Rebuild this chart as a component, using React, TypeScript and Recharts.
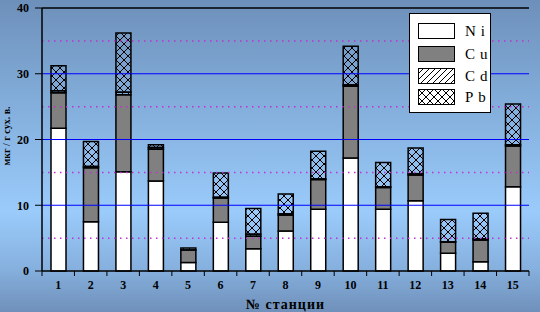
import React from "react";
import { Bar, BarChart, Label, Legend, ReferenceLine, XAxis, YAxis } from "recharts";

const stations = ["1", "2", "3", "4", "5", "6", "7", "8", "9", "10", "11", "12", "13", "14", "15"];
const ni = [21.7, 7.5, 15.1, 13.7, 1.3, 7.4, 3.4, 6.1, 9.4, 17.2, 9.4, 10.7, 2.7, 1.4, 12.8];
const cu = [5.4, 8.2, 11.7, 4.8, 1.9, 3.7, 1.9, 2.4, 4.5, 10.9, 3.3, 3.9, 1.7, 3.3, 6.2];
const cd = [0.3, 0.2, 0.4, 0.3, 0.3, 0.1, 0.3, 0.2, 0.1, 0.2, 0.1, 0.2, 0.05, 0.2, 0.2];
const pb = [3.8, 3.8, 9.0, 0.4, 0, 3.7, 3.9, 3.0, 4.2, 5.9, 3.7, 3.9, 3.4, 3.9, 6.2];
const yTicks = [0, 10, 20, 30, 40];
const majorLines = [10, 20, 30];
const minorLines = [5, 15, 25, 35];

const data = stations.map((s, i) => ({ st: s, Ni: ni[i], Cu: cu[i], Cd: cd[i], Pb: pb[i] }));

const series = [
  { key: "Ni", fill: "#ffffff" },
  { key: "Cu", fill: "#808080" },
  { key: "Cd", fill: "url(#hatchCd)" },
  { key: "Pb", fill: "url(#hatchPb)" },
];

const serif = "'Liberation Serif', 'Times New Roman', serif";

function Patterns({ prefix = "" }: { prefix?: string }) {
  return (
    <defs>
      <pattern id={`${prefix}hatchCd`} width={6} height={6} patternUnits="userSpaceOnUse">
        <path d="M0,6 L6,0 M-1,1 L1,-1 M5,7 L7,5" stroke="#000" strokeWidth={1} />
      </pattern>
      <pattern id={`${prefix}hatchPb`} width={8} height={8} patternUnits="userSpaceOnUse">
        <path d="M0,0 L8,8 M8,0 L0,8" stroke="#000" strokeWidth={1} />
        <rect x={3} y={3} width={2} height={2} fill="#000" />
      </pattern>
    </defs>
  );
}

function StationTick(props: any) {
  const { x, y, payload, index, width, visibleTicksCount } = props;
  const step = width / visibleTicksCount;
  const last = index === visibleTicksCount - 1;
  return (
    <g>
      <line x1={x - step / 2} x2={x - step / 2} y1={y - 8} y2={y - 3} stroke="#000" strokeWidth={1} />
      {last && <line x1={x + step / 2} x2={x + step / 2} y1={y - 8} y2={y - 3} stroke="#000" strokeWidth={1} />}
      <text x={x} y={y + 10} textAnchor="middle" fontFamily={serif} fontSize={12} fontWeight="bold" fill="#000">
        {payload.value}
      </text>
    </g>
  );
}

function LegendBox() {
  const tops = [10, 33, 55, 76];
  return (
    <div style={{ position: "relative", width: 82, height: 100, background: "#fff", border: "1px solid #000", boxSizing: "border-box" }}>
      {series.map((s, i) => (
        <div key={s.key}>
          <svg width={37} height={16} style={{ position: "absolute", left: 8, top: tops[i] - 1 }}>
            <Patterns prefix="lg-" />
            <rect
              x={0.5}
              y={0.5}
              width={36}
              height={15}
              fill={s.fill.startsWith("url") ? s.fill.replace("#", "#lg-") : s.fill}
              stroke="#000"
              strokeWidth={1}
            />
          </svg>
          <span
            style={{
              position: "absolute",
              left: 55,
              top: tops[i] - 3,
              fontFamily: serif,
              fontSize: 15,
              letterSpacing: 5,
              color: "#000",
              lineHeight: "20px",
            }}
          >
            {s.key}
          </span>
        </div>
      ))}
    </div>
  );
}

export default function App() {
  return (
    <div
      style={{
        position: "absolute",
        left: 0,
        top: 0,
        width: 540,
        height: 312,
        background: "linear-gradient(180deg, #6d90ba 0%, #84afdc 35%, #9acbfb 68%, #86b0de 86%, #6f90ba 100%)",
      }}
    >
      <BarChart
        width={540}
        height={312}
        data={data}
        margin={{ top: 8, right: 11, bottom: 0, left: 0 }}
        barSize={15}
      >
        <Patterns />
        <XAxis
          dataKey="st"
          height={41}
          axisLine={{ stroke: "#000", strokeWidth: 1.5 }}
          tickLine={false}
          tick={<StationTick />}
          interval={0}
        >
          <Label
            value="№ станции"
            position="insideBottom"
            offset={3}
            style={{ fontFamily: serif, fontSize: 14, fontWeight: "bold", fill: "#000", letterSpacing: 1 }}
          />
        </XAxis>
        <YAxis
          width={42}
          domain={[0, 40]}
          ticks={yTicks}
          tickSize={7}
          tickMargin={6}
          axisLine={{ stroke: "#000", strokeWidth: 1.5 }}
          tickLine={{ stroke: "#000" }}
          tick={{ fontFamily: serif, fontSize: 12, fontWeight: "bold", fill: "#000" }}
          label={{
            content: () => (
              <text
                x={10}
                y={136}
                transform="rotate(-90 10 136)"
                textAnchor="middle"
                fontFamily={serif}
                fontSize={10}
                fontWeight="bold"
                fill="#000"
              >
                мкг / г сух. в.
              </text>
            ),
          }}
        />
        <YAxis yAxisId="r" orientation="right" width={0} tick={false} tickLine={false} axisLine={{ stroke: "#000", strokeWidth: 1.5 }} />
        {minorLines.map((v) => (
          <ReferenceLine key={`m${v}`} y={v} stroke="#c030d0" strokeWidth={1.5} strokeDasharray="1.5 4.5" />
        ))}
        {majorLines.map((v) => (
          <ReferenceLine key={`M${v}`} y={v} stroke="#0000ff" strokeWidth={1.2} />
        ))}
        <ReferenceLine y={40} stroke="#000" strokeWidth={1.5} />
        <Legend
          layout="vertical"
          align="center"
          verticalAlign="middle"
          content={() => <LegendBox />}
          wrapperStyle={{ position: "absolute", left: 409, top: 13, width: 82, height: 100 }}
        />
        {series.map((s) => (
          <Bar
            key={s.key}
            dataKey={s.key}
            stackId="a"
            fill={s.fill}
            stroke="#000"
            strokeWidth={1.5}
            isAnimationActive={false}
          />
        ))}
      </BarChart>
    </div>
  );
}
